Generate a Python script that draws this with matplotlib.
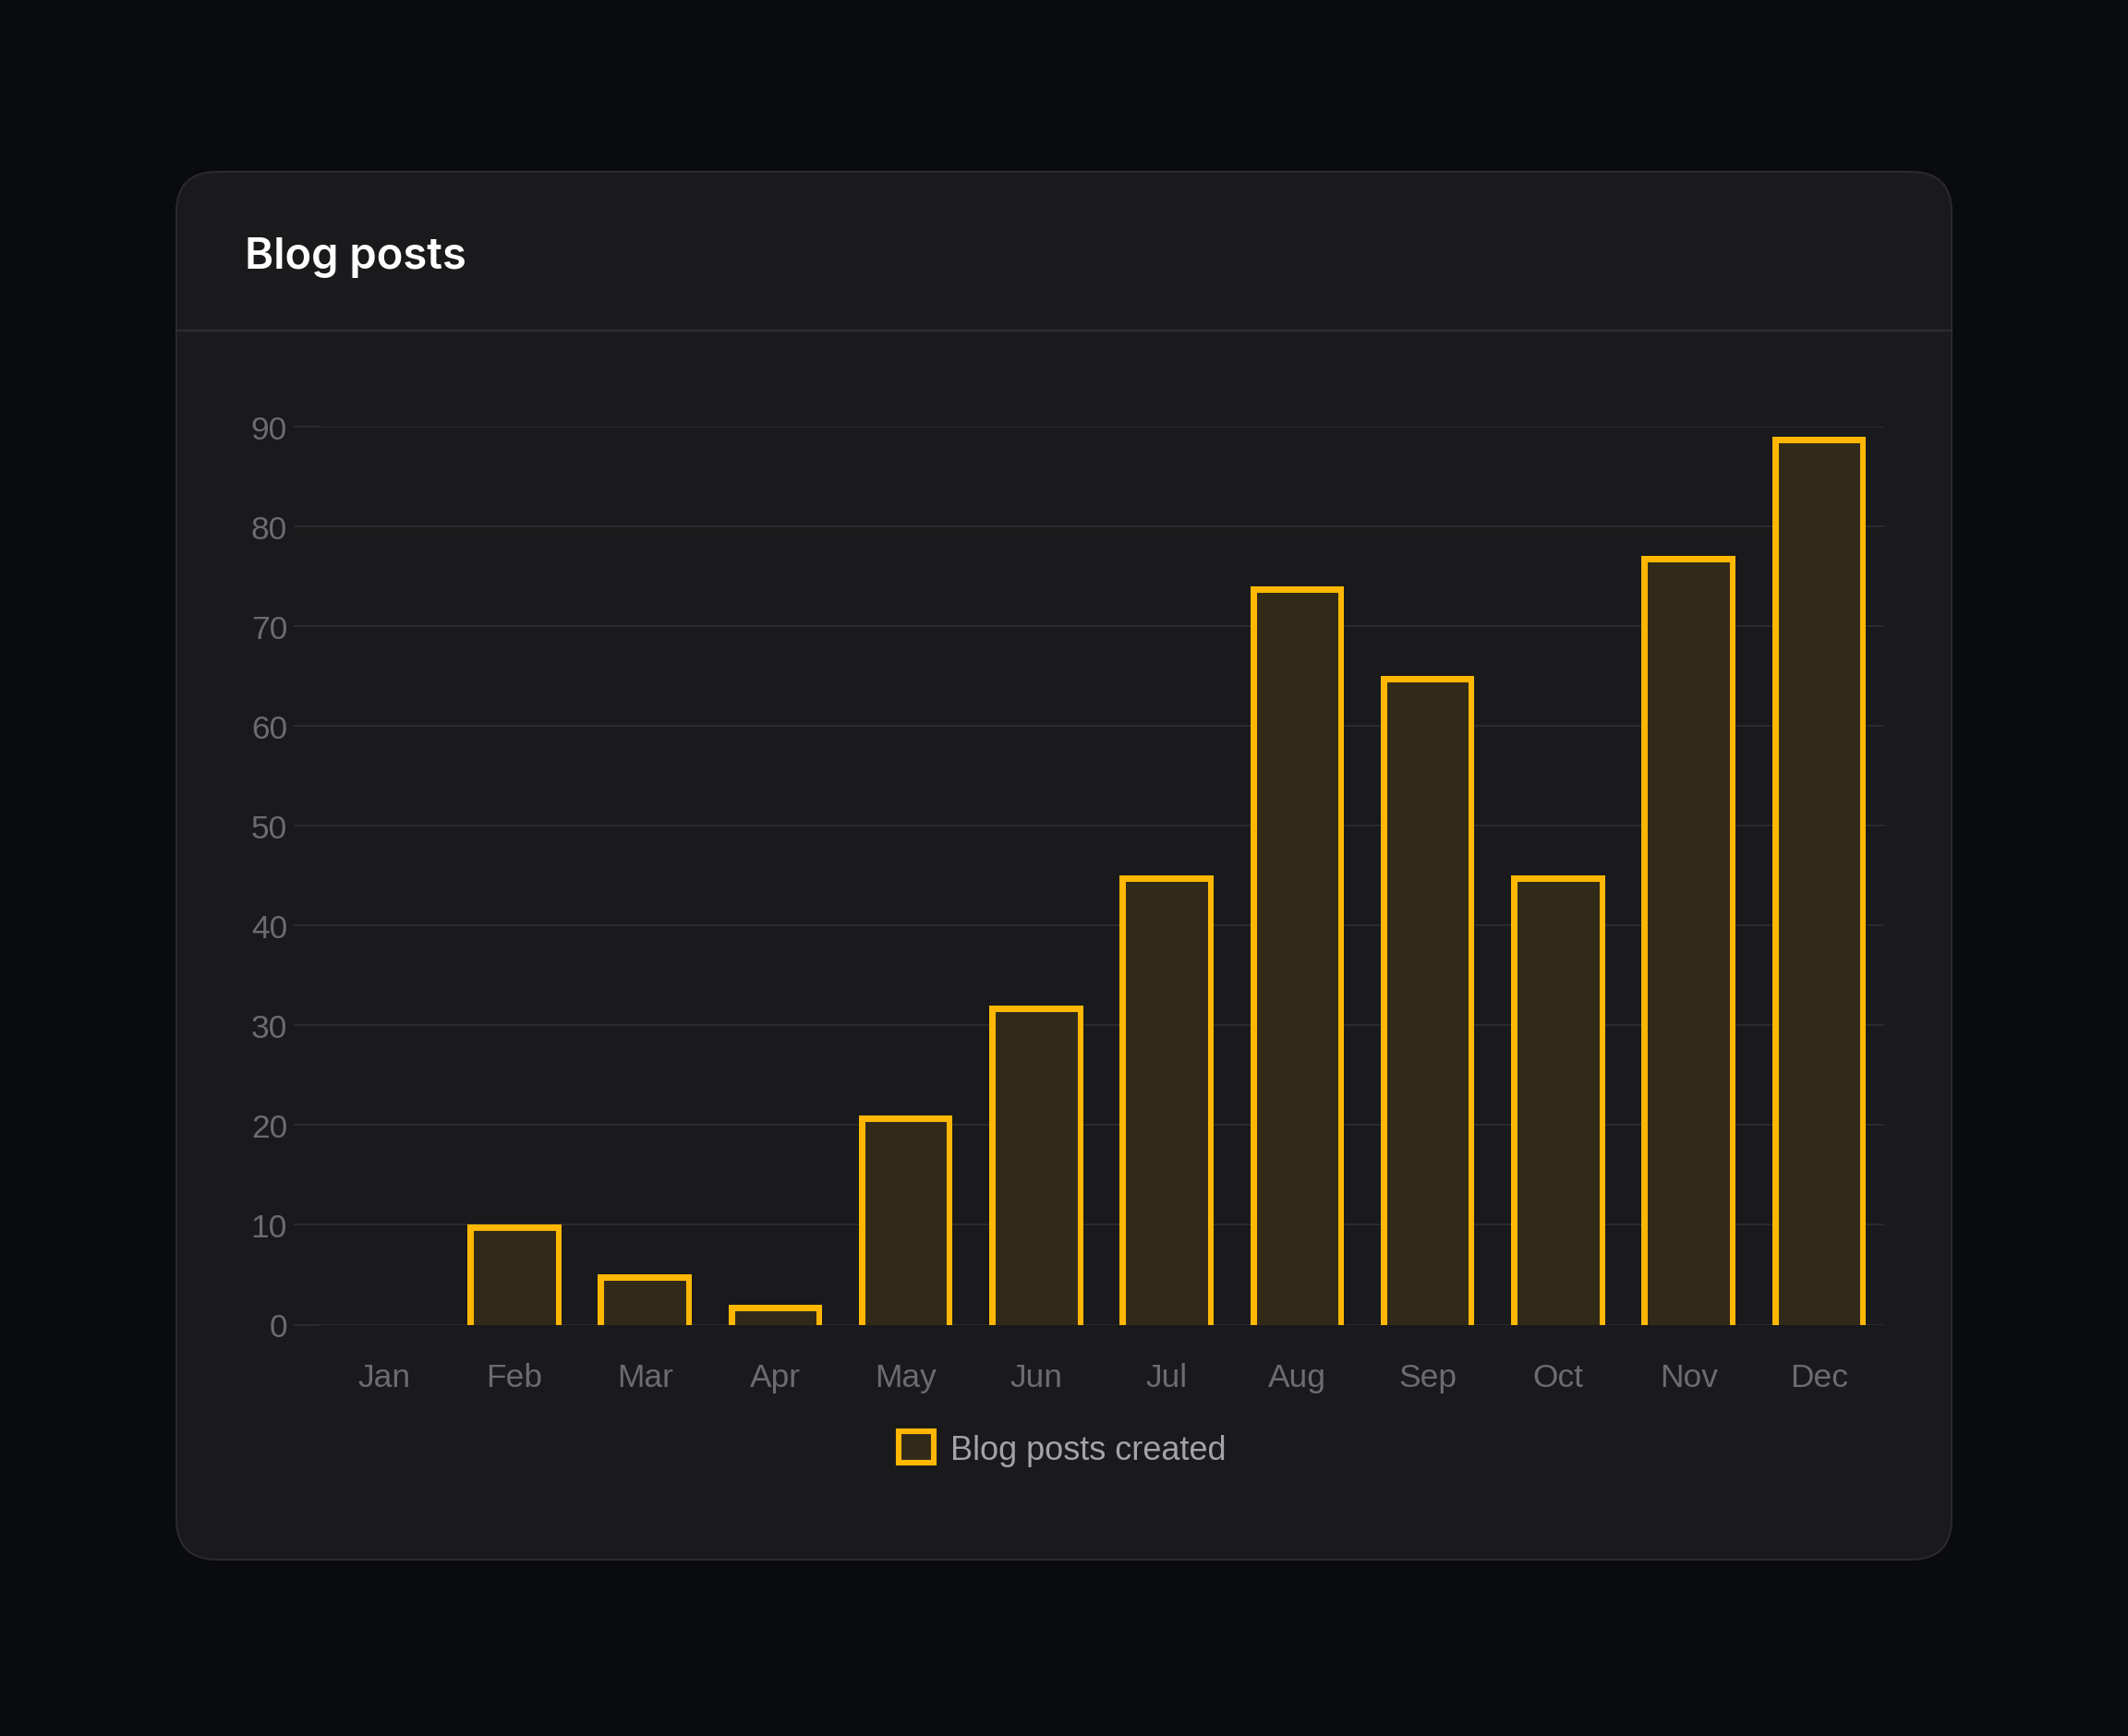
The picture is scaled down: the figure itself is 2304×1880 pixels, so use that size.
import matplotlib
matplotlib.use("Agg")
import matplotlib.pyplot as plt
from matplotlib.patches import FancyBboxPatch, Patch

months = ["Jan", "Feb", "Mar", "Apr", "May", "Jun", "Jul", "Aug", "Sep", "Oct", "Nov", "Dec"]
posts = [0, 10, 5, 2, 21, 32, 45, 74, 65, 45, 77, 89]
y_ticks = [0, 10, 20, 30, 40, 50, 60, 70, 80, 90]
series_label = "Blog posts created"
title = "Blog posts"

BG = "#0a0b0d"
CARD = "#1a1a1c"
CARD_EDGE = "#2a2a2c"
GRID = "#2c2c2f"
YELLOW = "#ffb703"
FILL = "#312a19"
TICK = "#6c6c70"
LEGEND_TXT = "#a3a3a8"

W, H = 2304, 1881
fig = plt.figure(figsize=(W / 100, H / 100), dpi=100)
fig.patch.set_facecolor(BG)

# background layer in pixel coords (y down)
bg = fig.add_axes([0, 0, 1, 1])
bg.set_xlim(0, W)
bg.set_ylim(H, 0)
bg.axis("off")
card = FancyBboxPatch((191, 187), 2113 - 191, 1690 - 187,
                      boxstyle="round,pad=0,rounding_size=44",
                      facecolor=CARD, edgecolor=CARD_EDGE, linewidth=1.5)
bg.add_patch(card)
bg.plot([191, 2113], [359, 359], color="#2e2e31", linewidth=1.6)
bg.text(265, 291, title, color="white", fontsize=34, fontweight="semibold",
        family=["Inter", "DejaVu Sans"], ha="left", va="baseline")

# chart
ax = fig.add_axes([345 / W, (H - 1435.5) / H, (2040 - 345) / W, (1435.5 - 463) / H])
ax.set_facecolor("none")
x = range(len(months))
bars = ax.bar(x, posts, width=0.72, color=FILL, linewidth=0, zorder=2)

# border drawn inside each bar, no bottom edge
for rect in bars:
    x0, w, h = rect.get_x(), rect.get_width(), rect.get_height()
    ln, = ax.plot([x0, x0, x0 + w, x0 + w], [0, h, h, 0], color=YELLOW,
                  linewidth=9.4, solid_joinstyle="miter", zorder=3)
    ln.set_clip_path(rect)

ax.set_xlim(-0.5, len(months) - 0.5)
ax.set_ylim(0, 90)
ax.set_yticks(y_ticks)
ax.set_xticks(list(x))
ax.set_xticklabels(months)
for s in ax.spines.values():
    s.set_visible(False)
ax.yaxis.grid(True, color=GRID, linewidth=1.4, zorder=0)
ax.set_axisbelow(True)
ax.tick_params(axis="y", length=19.4, width=1.4, color=GRID, pad=5,
               labelsize=25.5, labelcolor=TICK)
ax.tick_params(axis="x", length=0, pad=29, labelsize=25.5, labelcolor=TICK)
for lab in ax.get_xticklabels() + ax.get_yticklabels():
    lab.set_family(["Liberation Sans", "DejaVu Sans"])

handle = Patch(facecolor=FILL, edgecolor=YELLOW, linewidth=4.4)
leg = ax.legend([handle], [series_label], loc="center",
                bbox_to_anchor=(1150 / W, (H - 1570) / H), bbox_transform=fig.transFigure,
                frameon=False, handlelength=1.05, handleheight=1.05, handletextpad=0.5,
                prop={"family": ["Liberation Sans", "DejaVu Sans"], "size": 26})
for t in leg.get_texts():
    t.set_color(LEGEND_TXT)

fig.savefig("out.png", dpi=100, facecolor=BG)
